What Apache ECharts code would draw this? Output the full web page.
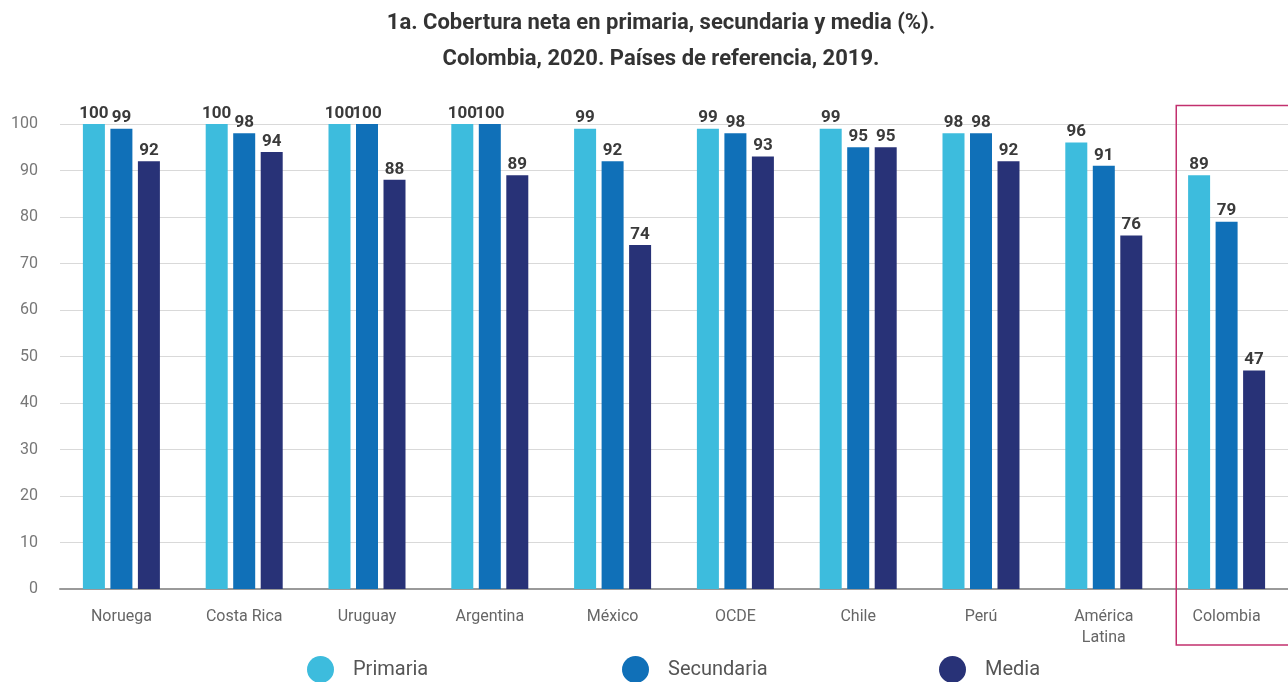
<!DOCTYPE html>
<html>
<head>
<meta charset="utf-8">
<script src="https://cdn.jsdelivr.net/npm/echarts@6/dist/echarts.min.js"></script>
<style>
  html, body { margin: 0; padding: 0; background: #ffffff; }
  #chart { width: 1288px; height: 682px; }
</style>
</head>
<body>
<div id="chart"></div>
<script>
// Net enrolment coverage (%) by level
const categories = ['Noruega', 'Costa Rica', 'Uruguay', 'Argentina', 'México', 'OCDE', 'Chile', 'Perú', 'América\nLatina', 'Colombia'];
const primaria   = [100, 100, 100, 100, 99, 99, 99, 98, 96, 89];
const secundaria = [99, 98, 100, 100, 92, 98, 95, 98, 91, 79];
const media      = [92, 94, 88, 89, 74, 93, 95, 92, 76, 47];
const seriesNames = ['Primaria', 'Secundaria', 'Media'];
const colors = ['#3dbcdd', '#1070b8', '#283277'];
const highlighted = 'Colombia';

const FONT = 'Roboto, "Noto Sans", sans-serif';

const chart = echarts.init(document.getElementById('chart'), null, { renderer: 'canvas' });

function barSeries(name, data, color) {
  return {
    name: name,
    type: 'bar',
    data: data,
    barWidth: 22,
    barGap: '25%',
    itemStyle: { color: color },
    label: {
      show: true,
      position: 'top',
      distance: 2,
      color: '#3a3a3a',
      fontFamily: FONT,
      fontWeight: 'bold',
      fontSize: 17
    }
  };
}

const legendLefts = [302, 617, 934];

chart.setOption({
  animation: false,
  backgroundColor: '#ffffff',
  title: {
    text: '1a. Cobertura neta en primaria, secundaria y media (%).\nColombia, 2020. Países de referencia, 2019.',
    left: 656,
    textAlign: 'center',
    top: 0,
    textStyle: {
      fontFamily: FONT,
      fontWeight: 'bold',
      fontSize: 22,
      lineHeight: 36,
      color: '#333333'
    }
  },
  legend: seriesNames.map((n, i) => ({
    data: [n],
    left: legendLefts[i],
    top: 651,
    icon: 'circle',
    itemWidth: 27,
    itemHeight: 27,
    itemGap: 0,
    textStyle: {
      fontFamily: FONT,
      fontSize: 20,
      color: '#555555',
      padding: [0, 0, 0, 14]
    }
  })),
  grid: { left: 60, top: 124, width: 1231, bottom: 93, containLabel: false },
  xAxis: {
    type: 'category',
    data: categories,
    axisTick: { show: false },
    axisLine: { lineStyle: { color: '#9a9a9a', width: 2 } },
    axisLabel: {
      margin: 17,
      interval: 0,
      fontFamily: FONT,
      fontSize: 16,
      lineHeight: 21,
      color: '#666666'
    }
  },
  yAxis: {
    type: 'value',
    min: 0,
    max: 100,
    interval: 10,
    axisLine: { show: false },
    axisTick: { show: false },
    splitLine: { lineStyle: { color: '#d9d9d9', width: 1 } },
    axisLabel: {
      margin: 22,
      fontFamily: FONT,
      fontSize: 16,
      color: '#777777'
    }
  },
  series: [
    barSeries(seriesNames[0], primaria, colors[0]),
    barSeries(seriesNames[1], secundaria, colors[1]),
    barSeries(seriesNames[2], media, colors[2])
  ]
});

// Frame around the highlighted category band, located through the axis scale
function drawHighlight() {
  const idx = categories.indexOf(highlighted);
  const center = chart.convertToPixel({ xAxisIndex: 0 }, idx);
  const next = chart.convertToPixel({ xAxisIndex: 0 }, idx - 1);
  const band = Math.abs(center - next);
  const yTop = chart.convertToPixel({ yAxisIndex: 0 }, 104);
  const yBase = chart.convertToPixel({ yAxisIndex: 0 }, 0);
  chart.setOption({
    graphic: [{
      type: 'rect',
      shape: {
        x: center - band * 0.41,
        y: yTop,
        width: band * 0.92,
        height: (yBase - yTop) + 56
      },
      style: { fill: 'none', stroke: '#c2306e', lineWidth: 1.5 },
      silent: true,
      z: 10
    }]
  });
}
drawHighlight();
</script>
</body>
</html>
